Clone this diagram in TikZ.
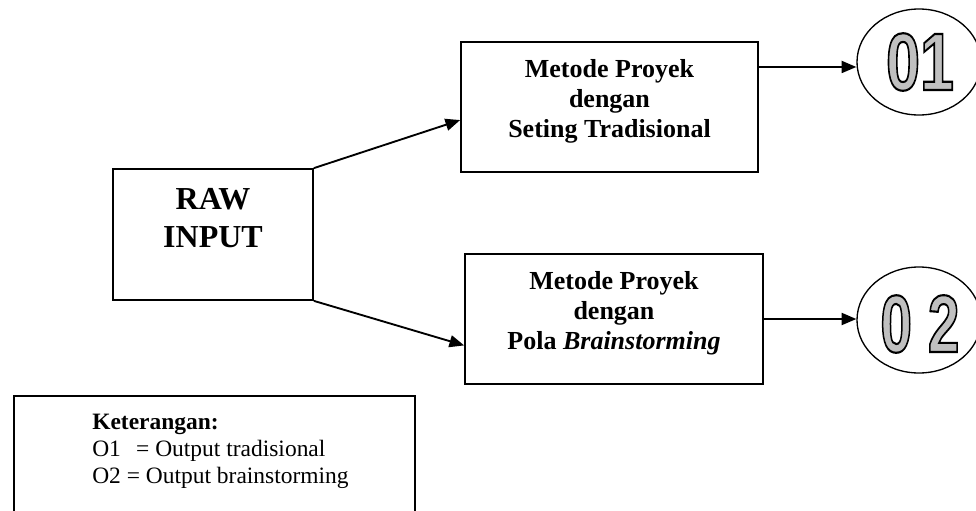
\documentclass[tikz,border=0pt]{standalone}
\usepackage{fontspec}
\setmainfont{Liberation Serif}
\newfontfamily\digitfont{Liberation Sans}
\usepackage{tikz}
\usetikzlibrary{arrows.meta, positioning, shapes.geometric}
\definecolor{digitgray}{RGB}{192,192,192}
\tikzset{
  box/.style     = {draw, line width=1.3pt, rectangle, inner sep=0pt},
  boxtext/.style = {align=center, inner sep=0pt, font=\fontsize{19.5}{22.5}\selectfont\bfseries},
  rawtext/.style = {align=center, inner sep=0pt, font=\fontsize{24}{28.5}\selectfont\bfseries},
  outcome/.style = {draw, line width=1pt, ellipse, inner sep=0pt,
                    minimum width=93pt, minimum height=79.5pt},
  arr/.style     = {-{Triangle[length=11pt, width=9pt]}, line width=1.4pt},
  legtext/.style = {align=left, inner sep=0pt, font=\fontsize{17.6}{20.25}\selectfont},
}
% grey digits with a black outline (fill + stroke text render mode)
\newcommand{\outlined}[2]{%
  \scalebox{#1}[1]{\digitfont\bfseries\fontsize{61}{61}\selectfont
    \color{digitgray}\special{pdf:literal direct 0 G 1.6 w 2 Tr}#2\special{pdf:literal direct 0 Tr}}}

\begin{document}
\begin{tikzpicture}[x=0.75pt, y=-0.75pt]
  \useasboundingbox (0,0) rectangle (976,511);
  \clip (0,0) rectangle (976,511);

  % blocks
  \node[box, minimum width=150pt, minimum height=98.25pt] (raw) at (213,234.5) {};
  \node[rawtext] (rawlbl) at (213,218.5) {RAW\\INPUT};

  \node[box, minimum width=222.75pt, minimum height=97.5pt] (trad) at (609.5,107) {};
  \node[boxtext, yshift=4.5pt] (tradlbl) at (trad.center)
    {Metode Proyek\\dengan\\Seting Tradisional};

  \node[box, minimum width=223.5pt, minimum height=97.5pt] (brain) at (614,319) {};
  \node[boxtext, yshift=4.5pt] (brainlbl) at (brain.center)
    {Metode Proyek\\dengan\\Pola \textit{Brainstorming}};

  % outputs
  \node[outcome] (o1) at (919,62) {};
  \node[inner sep=0pt] (o1lbl) at (920,62) {\outlined{0.75}{01}};
  \node[outcome] (o2) at (919,320) {};
  \node[inner sep=0pt] (o2lbl) at (920,324) {\outlined{0.7}{0 2}};

  % connectors
  \draw[arr] (raw.north east) -- (trad.185);
  \draw[arr] (raw.south east) -- (brain.190);
  \draw[arr] (trad.15) -- (trad.15 -| o1.west);
  \draw[arr] (brain.east) -- (brain.east -| o2.west);

  % legend
  \node[box, anchor=north west, minimum width=300.75pt, minimum height=150pt] (legend) at (13,395) {};
  \node[legtext, anchor=north west] (legendlbl) at (92,413.5)
    {\textbf{Keterangan:}\\O1\hspace{0.4em} = Output tradisional\\O2 = Output brainstorming};
\end{tikzpicture}
\end{document}
